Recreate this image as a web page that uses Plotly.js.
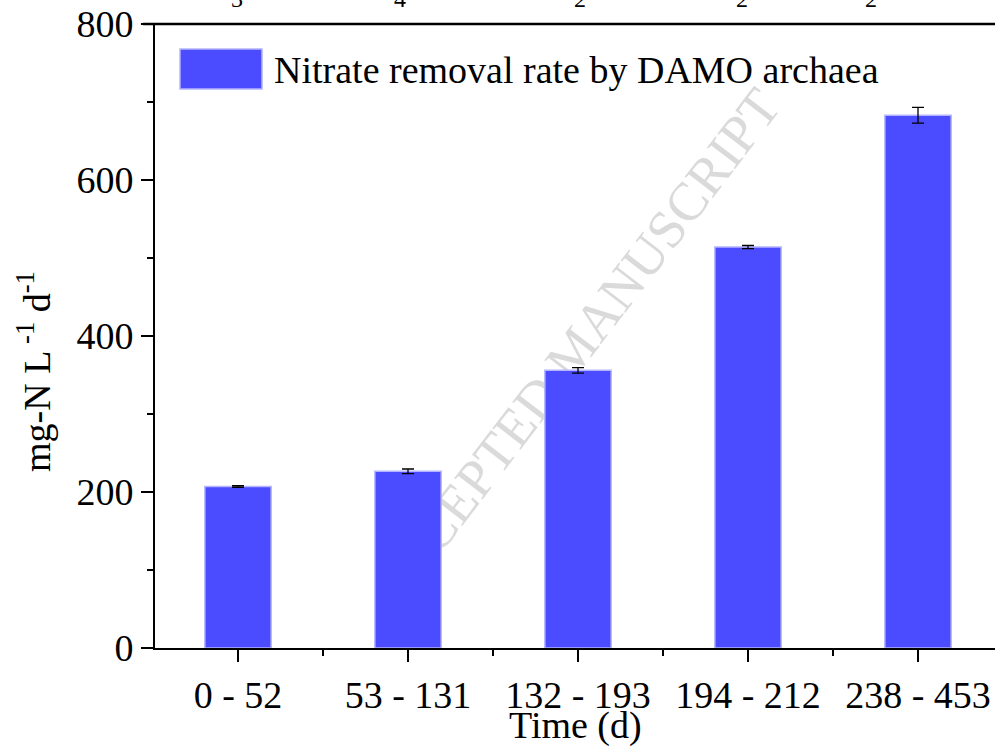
<!DOCTYPE html>
<html>
<head>
<meta charset="utf-8">
<script src="https://cdn.plot.ly/plotly-3.0.1.min.js"></script>
<style>
html,body{margin:0;padding:0;background:#fff;}
#wrap{position:relative;width:995px;height:748px;}
#chart{position:absolute;left:0;top:0;width:995px;height:748px;z-index:1;}
#watermark{position:absolute;left:574px;top:350px;z-index:0;transform:translate(-50%,-50%) rotate(-52.6deg);
  font-family:"Liberation Serif","Times New Roman",serif;font-size:54px;color:#DADADA;white-space:nowrap;line-height:1;}
</style>
</head>
<body>
<div id="wrap">
<div id="watermark">ACCEPTED MANUSCRIPT</div>
<div id="chart"></div>
</div>
<script>
const categories = ["0 - 52", "53 - 131", "132 - 193", "194 - 212", "238 - 453"];
const rates = [207, 226.5, 356, 514, 683];
const rateErrors = [1, 3, 3.5, 2, 10];
const seriesName = "Nitrate removal rate by DAMO archaea";
const yTicks = [0, 200, 400, 600, 800];
const topPanelLabels = ["3", "4", "2", "2", "2"];
const topPanelLabelX = [237, 400, 580, 742, 871];

const FONT = '"Liberation Serif", "Times New Roman", serif';
const FS = 38;
const idx = categories.map((c, i) => i);

const W = 995, H = 748, L = 155, T = 24, B = 100, R = 0;
const pw = W - L - R, ph = H - T - B;
const px2x = p => (p - L) / pw;
const px2y = p => (H - B - p) / ph;

const trace = {
  type: 'bar',
  x: idx,
  y: rates,
  width: 0.39,
  name: seriesName,
  showlegend: false,
  marker: { color: '#4B4BFF', line: { color: '#B4B4FF', width: 1.5 } },
  error_y: { type: 'data', array: rateErrors, visible: true, color: '#000', thickness: 1.3, width: 6 }
};

const annotations = [
  { xref: 'paper', yref: 'paper', x: px2x(272), y: px2y(70), xanchor: 'left', yanchor: 'middle',
    text: seriesName, showarrow: false, font: { family: FONT, size: FS, color: '#000' } },
  { xref: 'paper', yref: 'paper', x: 0.5, y: px2y(725), xanchor: 'center', yanchor: 'middle',
    text: 'Time (d)', showarrow: false, font: { family: FONT, size: FS, color: '#000' } },
  { xref: 'paper', yref: 'paper', x: px2x(34), y: px2y(372), xanchor: 'center', yanchor: 'middle',
    textangle: -90, text: 'mg-N L<sup> -1</sup> d<sup>-1</sup>', showarrow: false,
    font: { family: FONT, size: FS, color: '#000' } }
];
topPanelLabels.forEach((t, i) => {
  annotations.push({ xref: 'paper', yref: 'paper', x: px2x(topPanelLabelX[i]), y: px2y(14),
    xanchor: 'center', yanchor: 'bottom', text: t, showarrow: false,
    font: { family: FONT, size: 24, color: '#000' } });
});

const shapes = [
  { type: 'rect', xref: 'paper', yref: 'paper', x0: px2x(180), x1: px2x(262), y0: px2y(89), y1: px2y(49),
    fillcolor: '#4B4BFF', line: { color: '#B4B4FF', width: 1.5 } },
  { type: 'line', xref: 'paper', yref: 'paper', x0: px2x(143), x1: 1.05, y0: 1, y1: 1,
    line: { color: '#000', width: 2.5 } }
];

const layout = {
  width: W, height: H,
  margin: { l: L, r: R, t: T, b: B, pad: 0 },
  paper_bgcolor: 'rgba(0,0,0,0)', plot_bgcolor: 'rgba(0,0,0,0)',
  font: { family: FONT, size: FS, color: '#000' },
  showlegend: false,
  xaxis: {
    range: [-83 / 170, -83 / 170 + pw / 170],
    tickmode: 'array', tickvals: idx, ticktext: categories,
    ticks: 'outside', ticklen: 12, tickwidth: 2, tickcolor: '#000',
    minor: { tickmode: 'linear', tick0: 0.5, dtick: 1, ticks: 'outside', ticklen: 6, tickwidth: 2, tickcolor: '#000' },
    showline: true, linecolor: '#000', linewidth: 2,
    showgrid: false, zeroline: false,
    tickfont: { family: FONT, size: FS }
  },
  yaxis: {
    range: [0, 800],
    tickmode: 'array', tickvals: yTicks,
    ticks: 'outside', ticklen: 12, tickwidth: 2, tickcolor: '#000',
    minor: { tickmode: 'linear', tick0: 100, dtick: 200, ticks: 'outside', ticklen: 6, tickwidth: 2, tickcolor: '#000' },
    showline: true, linecolor: '#000', linewidth: 2,
    showgrid: false, zeroline: false,
    tickfont: { family: FONT, size: FS }
  },
  annotations: annotations,
  shapes: shapes
};

Plotly.newPlot('chart', [trace], layout, { displayModeBar: false, staticPlot: true });
</script>
</body>
</html>
